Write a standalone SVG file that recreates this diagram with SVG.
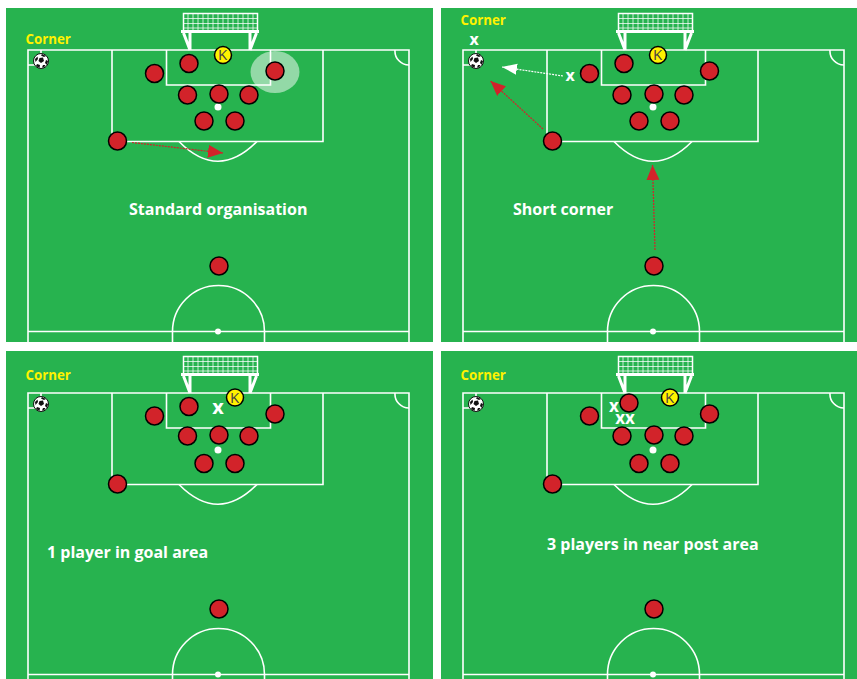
<svg xmlns="http://www.w3.org/2000/svg" width="857" height="679" viewBox="0 0 857 679">
<style>
text{font-family:"Open Sans","Noto Sans",sans-serif;font-weight:700}
.line{fill:none;stroke:#fff;stroke-width:1.6}
.net{fill:none;stroke:#fff;stroke-width:1;opacity:.75}
.frame{fill:none;stroke:#fff;stroke-width:3}
.player{fill:#d2232a;stroke:#000;stroke-width:1.5}
.keeper{fill:#fff200;stroke:#000;stroke-width:1.5}
.klabel{fill:#444;font-size:15px;font-weight:400;text-anchor:middle}
.corner{fill:#fff200;font-size:13.300px}
.cap{fill:#fff;font-size:16px}
.x{fill:#fff;font-size:16px;text-anchor:middle}
.red{fill:none;stroke:#d2232a;stroke-width:1.200;stroke-dasharray:2 1}
.white{fill:none;stroke:#fff;stroke-width:1.200;stroke-dasharray:2 1}
</style>
<defs>
<marker id="redHead" markerUnits="userSpaceOnUse" markerWidth="16" markerHeight="14" refX="15" refY="6.500" orient="auto"><path d="M0 0L15 6.500L0 13Z" fill="#d2232a"/></marker>
<marker id="whiteHead" markerUnits="userSpaceOnUse" markerWidth="16" markerHeight="12" refX="15" refY="5.500" orient="auto"><path d="M0 0L15 5.500L0 11Z" fill="#fff"/></marker>
<g id="pitchLines">
<path class="line" d="M28 342V50H409V342M28 331.500H409M112 50V141.500H323V50M166.500 50V85H270.500V50"/>
<path class="line" d="M179 141.500Q218 181 257 141.500"/>
<path class="line" d="M395 50A14 14 0 0 0 409 65M41 50V54M28 65H35"/>
<path class="line" d="M172.500 342V331.500A46 46 0 0 1 264.500 331.500V342"/>
<circle cx="218" cy="107" r="3.500" fill="#fff"/>
<circle cx="218" cy="331.500" r="3" fill="#fff"/>
<path class="net" d="M183 18.500H257M183 23.500H257M183 28H257M188 13V31M193 13V31M198 13V31M203 13V31M208 13V31M213 13V31M218 13V31M223 13V31M228 13V31M233 13V31M238 13V31M243 13V31M248 13V31M253 13V31"/>
<path fill="none" stroke="#fff" stroke-width="1.500" d="M183.500 31V13.500H257.500V31"/>
<path class="frame" d="M181 31.500H259M183.500 33L190 50M190 32V50M256.500 33L250 50M250 32V50"/>
</g>
<g id="ball">
<circle r="7.500" fill="#fff" stroke="#111" stroke-width="1"/>
<path fill="#111" d="M-1.500-3L2-3.500L3 0L0 2L-2.500 0ZM-6-2L-3.500-4.500L-3-2L-5.500 1ZM1-7L5-5L3-4L0-5.500ZM5-1L7 0L6 4L4 2ZM-4 3L-1 4L-1.500 7L-5 5ZM2 4L4.500 4L3 6.500L1 6.500Z"/>
</g>
</defs>

<g id="panel-1">
<rect x="6" y="8" width="427" height="334" fill="#27b34f"/>
<use href="#pitchLines"/>
<ellipse id="highlight" cx="275" cy="72" rx="24.500" ry="21" fill="#fff" opacity=".5"/>
</g>
<g id="panel-2">
<rect x="441" y="8" width="416" height="334" fill="#27b34f"/>
<use href="#pitchLines" transform="translate(435 0)"/>
</g>
<g id="panel-3">
<rect x="6" y="351" width="427" height="328" fill="#27b34f"/>
<svg x="6" y="351" width="427" height="328" viewBox="6 8 427 328"><use href="#pitchLines"/></svg>
</g>
<g id="panel-4">
<rect x="441" y="351" width="416" height="328" fill="#27b34f"/>
<svg x="441" y="351" width="416" height="328" viewBox="441 8 416 328"><use href="#pitchLines" transform="translate(435 0)"/></svg>
</g>

<g id="connectors">
<path class="red" marker-end="url(#redHead)" d="M132 142.500L223 153"/>
<path class="red" marker-end="url(#redHead)" d="M543 129L490.500 81"/>
<path class="white" marker-end="url(#whiteHead)" d="M563 76L502 67"/>
<path class="red" marker-end="url(#redHead)" d="M655 250L652.500 165"/>
</g>

<g id="balls">
<use id="ball-1" href="#ball" x="41" y="61"/>
<use id="ball-2" href="#ball" x="476" y="61"/>
<use id="ball-3" href="#ball" x="41" y="404"/>
<use id="ball-4" href="#ball" x="476" y="404"/>
</g>

<g id="players-1">
<circle id="p1-1" class="player" cx="154.500" cy="73.500" r="9"/>
<circle id="p1-2" class="player" cx="189" cy="63.500" r="9"/>
<circle id="p1-3" class="player" cx="275" cy="71" r="9"/>
<circle id="p1-4" class="player" cx="187.500" cy="95" r="9"/>
<circle id="p1-5" class="player" cx="219" cy="94" r="9"/>
<circle id="p1-6" class="player" cx="249" cy="95" r="9"/>
<circle id="p1-7" class="player" cx="204" cy="121" r="9"/>
<circle id="p1-8" class="player" cx="235" cy="121" r="9"/>
<circle id="p1-9" class="player" cx="117.500" cy="141" r="9"/>
<circle id="p1-10" class="player" cx="219" cy="266" r="9"/>
<g id="k1"><circle class="keeper" cx="223" cy="55" r="8.500"/><text class="klabel" x="222.500" y="60">K</text></g>
</g>
<g id="players-2">
<circle id="p2-1" class="player" cx="589.500" cy="73.500" r="9"/>
<circle id="p2-2" class="player" cx="624" cy="63.500" r="9"/>
<circle id="p2-3" class="player" cx="709.500" cy="71" r="9"/>
<circle id="p2-4" class="player" cx="622" cy="95" r="9"/>
<circle id="p2-5" class="player" cx="654" cy="94" r="9"/>
<circle id="p2-6" class="player" cx="684" cy="95" r="9"/>
<circle id="p2-7" class="player" cx="639" cy="121" r="9"/>
<circle id="p2-8" class="player" cx="670" cy="121" r="9"/>
<circle id="p2-9" class="player" cx="552.500" cy="141" r="9"/>
<circle id="p2-10" class="player" cx="654" cy="266" r="9"/>
<g id="k2"><circle class="keeper" cx="658" cy="55" r="8.500"/><text class="klabel" x="657.500" y="60">K</text></g>
</g>
<g id="players-3">
<circle id="p3-1" class="player" cx="154.500" cy="416" r="9"/>
<circle id="p3-2" class="player" cx="189" cy="406.500" r="9"/>
<circle id="p3-3" class="player" cx="275" cy="414" r="9"/>
<circle id="p3-4" class="player" cx="187.500" cy="436" r="9"/>
<circle id="p3-5" class="player" cx="219" cy="435" r="9"/>
<circle id="p3-6" class="player" cx="249" cy="436" r="9"/>
<circle id="p3-7" class="player" cx="204" cy="463.500" r="9"/>
<circle id="p3-8" class="player" cx="235" cy="463.500" r="9"/>
<circle id="p3-9" class="player" cx="117.500" cy="484" r="9"/>
<circle id="p3-10" class="player" cx="219" cy="609" r="9"/>
<g id="k3"><circle class="keeper" cx="235" cy="397.500" r="8.500"/><text class="klabel" x="234.500" y="402.500">K</text></g>
</g>
<g id="players-4">
<circle id="p4-1" class="player" cx="589.500" cy="416" r="9"/>
<circle id="p4-2" class="player" cx="629" cy="403" r="9"/>
<circle id="p4-3" class="player" cx="709.500" cy="414" r="9"/>
<circle id="p4-4" class="player" cx="622" cy="436" r="9"/>
<circle id="p4-5" class="player" cx="654" cy="435" r="9"/>
<circle id="p4-6" class="player" cx="684" cy="436" r="9"/>
<circle id="p4-7" class="player" cx="639" cy="463.500" r="9"/>
<circle id="p4-8" class="player" cx="670" cy="463.500" r="9"/>
<circle id="p4-9" class="player" cx="552.500" cy="484" r="9"/>
<circle id="p4-10" class="player" cx="654" cy="609" r="9"/>
<g id="k4"><circle class="keeper" cx="670" cy="397.500" r="8.500"/><text class="klabel" x="669.500" y="402.500">K</text></g>
</g>

<g id="labels">
<text class="corner" x="25.500" y="43.500">Corner</text>
<text class="corner" x="460.500" y="24.500">Corner</text>
<text class="corner" x="25.500" y="379.500">Corner</text>
<text class="corner" x="460.500" y="379.500">Corner</text>
<text class="cap" x="129" y="214.500">Standard organisation</text>
<text class="cap" x="513" y="214.500">Short corner</text>
<text class="cap" x="47" y="557.500">1 player in goal area</text>
<text class="cap" x="547" y="549.500">3 players in near post area</text>
<text class="x" x="474" y="45">x</text>
<text class="x" x="570" y="80.500">x</text>
<text class="x" x="218" y="414" style="font-size:20px">x</text>
<text class="x" x="614" y="412" style="font-size:17px">x</text>
<text class="x" x="625" y="424" style="font-size:17px">xx</text>
</g>
</svg>
